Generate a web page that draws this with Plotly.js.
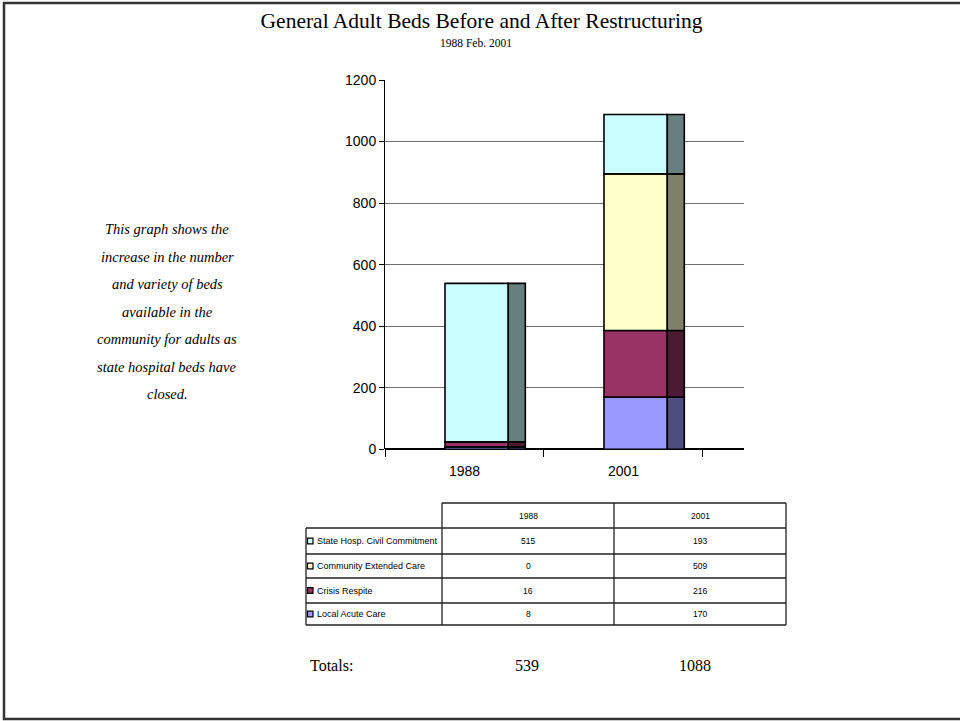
<!DOCTYPE html>
<html>
<head>
<meta charset="utf-8">
<script src="https://cdn.plot.ly/plotly-3.0.1.min.js"></script>
<style>
  html, body { margin: 0; padding: 0; background: #ffffff; }
  #chart { width: 960px; height: 721px; }
</style>
</head>
<body>
<div id="chart"></div>
<script>
// ---------- DATA ----------
const categories = ['1988', '2001'];
const seriesNames = ['State Hosp. Civil Commitment', 'Community Extended Care', 'Crisis Respite', 'Local Acute Care'];
const stateHosp = [515, 193];
const communityExtended = [0, 509];
const crisisRespite = [16, 216];
const localAcute = [8, 170];
const yTickValues = [0, 200, 400, 600, 800, 1000, 1200];
const titleText = 'General Adult Beds Before and After Restructuring';
const subtitleText = '1988 Feb. 2001';
const noteLines = ['This graph shows the', 'increase in the number', 'and variety of beds', 'available in the',
                   'community for adults as', 'state hospital beds have', 'closed.'];
const totalsLabel = 'Totals:';

// ---------- STYLE ----------
const W = 960, H = 721;
const px = x => x / W;
const py = y => 1 - y / H;
const SANS = '"Liberation Sans", Arial, sans-serif';
const SERIF = '"Liberation Serif", "Times New Roman", serif';

// stacking order bottom -> top, with front and side colours
const stackSeries = [
  { name: seriesNames[3], values: localAcute,        front: '#9999FF', side: '#4D4D80' },
  { name: seriesNames[2], values: crisisRespite,     front: '#993366', side: '#4D1A33' },
  { name: seriesNames[1], values: communityExtended, front: '#FFFFCC', side: '#808066' },
  { name: seriesNames[0], values: stateHosp,         front: '#CCFFFF', side: '#668080' }
];
const tableRowsSeries = [
  { name: seriesNames[0], values: stateHosp,         color: '#CCFFFF' },
  { name: seriesNames[1], values: communityExtended, color: '#FFFFCC' },
  { name: seriesNames[2], values: crisisRespite,     color: '#993366' },
  { name: seriesNames[3], values: localAcute,        color: '#9999FF' }
];

const traces = [];
let base = categories.map(() => 0);
stackSeries.forEach(s => {
  const b = base.slice();
  traces.push({
    type: 'bar', x: categories, y: s.values, base: b, name: s.name,
    offset: -0.1226, width: 0.398,
    marker: { color: s.front, line: { color: '#000000', width: 1.6 } },
    showlegend: false, hoverinfo: 'skip'
  });
  traces.push({
    type: 'bar', x: categories, y: s.values, base: b, name: s.name + ' (side)',
    offset: 0.2755, width: 0.107,
    marker: { color: s.side, line: { color: '#000000', width: 1.6 } },
    showlegend: false, hoverinfo: 'skip'
  });
  base = base.map((v, i) => v + s.values[i]);
});
const totals = base;

// ---------- TABLE (shapes + annotations) ----------
const tCols = [306, 442, 614, 786];
const tRows = [503, 528, 554, 578, 603, 625];
const lineStyle = { color: '#222222', width: 1.3 };
const shapes = [];
const annotations = [];

// frame
shapes.push({ type: 'rect', xref: 'paper', yref: 'paper', x0: px(4), x1: px(970), y0: py(3), y1: py(719),
              line: { color: '#333333', width: 2.5 }, fillcolor: 'rgba(0,0,0,0)' });

// horizontal lines
shapes.push({ type: 'line', xref: 'paper', yref: 'paper', x0: px(tCols[1]), x1: px(tCols[3]), y0: py(tRows[0]), y1: py(tRows[0]), line: lineStyle });
for (let r = 1; r < tRows.length; r++) {
  shapes.push({ type: 'line', xref: 'paper', yref: 'paper', x0: px(tCols[0]), x1: px(tCols[3]), y0: py(tRows[r]), y1: py(tRows[r]), line: lineStyle });
}
// vertical lines
shapes.push({ type: 'line', xref: 'paper', yref: 'paper', x0: px(tCols[0]), x1: px(tCols[0]), y0: py(tRows[1]), y1: py(tRows[5]), line: lineStyle });
for (let c = 1; c < tCols.length; c++) {
  shapes.push({ type: 'line', xref: 'paper', yref: 'paper', x0: px(tCols[c]), x1: px(tCols[c]), y0: py(tRows[0]), y1: py(tRows[5]), line: lineStyle });
}
// header
categories.forEach((c, i) => {
  annotations.push({ xref: 'paper', yref: 'paper', x: px((tCols[i + 1] + tCols[i + 2]) / 2), y: py((tRows[0] + tRows[1]) / 2),
    text: c, showarrow: false, xanchor: 'center', yanchor: 'middle', font: { family: SANS, size: 8.5, color: '#000' } });
});
// rows
tableRowsSeries.forEach((s, r) => {
  const yc = (tRows[r + 1] + tRows[r + 2]) / 2;
  shapes.push({ type: 'rect', xref: 'paper', yref: 'paper', x0: px(307.5), x1: px(313), y0: py(yc - 2.8), y1: py(yc + 2.8),
                fillcolor: s.color, line: { color: '#000000', width: 1.2 } });
  annotations.push({ xref: 'paper', yref: 'paper', x: px(315), y: py(yc), text: s.name, showarrow: false,
    xanchor: 'left', yanchor: 'middle', font: { family: SANS, size: 9, color: '#000' } });
  s.values.forEach((v, i) => {
    annotations.push({ xref: 'paper', yref: 'paper', x: px((tCols[i + 1] + tCols[i + 2]) / 2), y: py(yc), text: String(v),
      showarrow: false, xanchor: 'center', yanchor: 'middle', font: { family: SANS, size: 8.5, color: '#000' } });
  });
});

// totals line
annotations.push({ xref: 'paper', yref: 'paper', x: px(308), y: py(665), text: totalsLabel, showarrow: false,
  xanchor: 'left', yanchor: 'middle', font: { family: SERIF, size: 16, color: '#000' } });
totals.forEach((t, i) => {
  annotations.push({ xref: 'paper', yref: 'paper', x: px([527, 695][i]), y: py(665), text: String(t), showarrow: false,
    xanchor: 'center', yanchor: 'middle', font: { family: SERIF, size: 16, color: '#000' } });
});

// subtitle
annotations.push({ xref: 'paper', yref: 'paper', x: px(476), y: py(43), text: subtitleText, showarrow: false,
  xanchor: 'center', yanchor: 'middle', font: { family: SERIF, size: 11.5, color: '#000' } });

// side note
noteLines.forEach((line, i) => {
  annotations.push({ xref: 'paper', yref: 'paper', x: px(167), y: py(229 + i * 27.5), text: '<i>' + line + '</i>', showarrow: false,
    xanchor: 'center', yanchor: 'middle', font: { family: SERIF, size: 14.5, color: '#000' } });
});

const layout = {
  width: W, height: H,
  margin: { l: 0, r: 0, t: 0, b: 0, pad: 0 },
  paper_bgcolor: '#ffffff', plot_bgcolor: '#ffffff',
  title: { text: titleText, x: px(481.5), xref: 'paper', xanchor: 'center', y: py(20), yref: 'container', yanchor: 'middle',
           font: { family: SERIF, size: 21.5, color: '#000' } },
  barmode: 'overlay',
  xaxis: {
    type: 'category', categoryorder: 'array', categoryarray: categories,
    domain: [px(385), px(744)], range: [-0.5, 1.758],
    tickson: 'boundaries', ticks: 'outside', ticklen: 7, tickcolor: '#000', tickwidth: 1,
    ticklabelstandoff: 12,
    showgrid: false, showline: false, zeroline: false,
    tickfont: { family: SANS, size: 14, color: '#000' }
  },
  yaxis: {
    domain: [py(449.3), py(80)], range: [0, 1200],
    tickvals: yTickValues, ticks: 'outside', ticklen: 5, tickcolor: '#000',
    showline: true, linecolor: '#000', linewidth: 1,
    showgrid: true, gridcolor: '#6e6e6e', gridwidth: 1,
    zeroline: true, zerolinecolor: '#000', zerolinewidth: 2,
    tickfont: { family: SANS, size: 14, color: '#000' }
  },
  shapes: shapes,
  annotations: annotations,
  showlegend: false
};

Plotly.newPlot('chart', traces, layout, { staticPlot: true, displayModeBar: false });
</script>
</body>
</html>
